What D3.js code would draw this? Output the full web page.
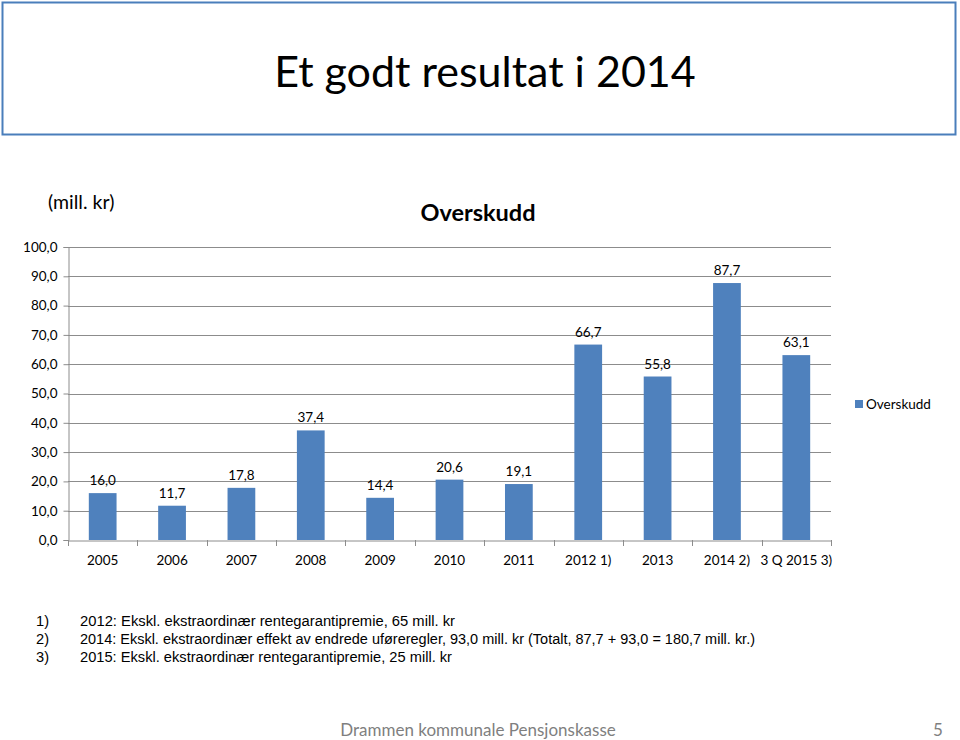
<!DOCTYPE html>
<html><head><meta charset="utf-8">
<script src="https://cdn.jsdelivr.net/npm/d3@7"></script>
<style>body{margin:0;background:#fff}svg{display:block}</style>
</head><body>
<svg id="c" width="960" height="740"></svg>
<script>
const categories = ["2005","2006","2007","2008","2009","2010","2011","2012 1)","2013","2014 2)","3 Q 2015 3)"];
const values = [16.0,11.7,17.8,37.4,14.4,20.6,19.1,66.7,55.8,87.7,63.1];
const yTicks = [0,10,20,30,40,50,60,70,80,90,100];
const seriesName = "Overskudd";
const footnotes = [
  ["1)","2012: Ekskl. ekstraordinær rentegarantipremie, 65 mill. kr"],
  ["2)","2014: Ekskl. ekstraordinær effekt av endrede uføreregler, 93,0 mill. kr (Totalt, 87,7 + 93,0 = 180,7 mill. kr.)"],
  ["3)","2015: Ekskl. ekstraordinær rentegarantipremie, 25 mill. kr"]
];
const fmt = v => d3.format(".1f")(v).replace(".", ",");

const svg = d3.select("#c");
const font = "Lato, 'Open Sans', sans-serif";

// title box
svg.append("rect").attr("x",2.5).attr("y",2.5).attr("width",953).attr("height",132)
  .attr("fill","#fff").attr("stroke","#4a7ebb").attr("stroke-width",2);
svg.append("text").attr("x",485).attr("y",87).attr("text-anchor","middle")
  .attr("font-family",font).attr("font-size",43).attr("fill","#000").text("Et godt resultat i 2014");

const L = 68, R = 831, T = 247, B = 540;
const x = d3.scaleBand().domain(categories).range([L,R]).paddingInner(0.6).paddingOuter(0.3);
const xb = d3.scaleBand().domain(categories).range([L,R]);
const y = d3.scaleLinear().domain([0,100]).range([B,T]);

// gridlines
svg.append("g").selectAll("line").data(yTicks.filter(d=>d>0)).join("line")
  .attr("x1",L).attr("x2",R).attr("y1",d=>Math.round(y(d))+0.5).attr("y2",d=>Math.round(y(d))+0.5)
  .attr("stroke","#8c8c8c").attr("stroke-width",1);

// bars
svg.append("g").selectAll("rect").data(values).join("rect")
  .attr("x",(d,i)=>x(categories[i])).attr("width",x.bandwidth())
  .attr("y",d=>y(d)).attr("height",d=>B-y(d)).attr("fill","#4f81bd");

// data labels
svg.append("g").selectAll("text").data(values).join("text")
  .attr("x",(d,i)=>x(categories[i])+x.bandwidth()/2).attr("y",d=>y(d)-8)
  .attr("text-anchor","middle").attr("font-family",font).attr("font-size",13.5).attr("fill","#000")
  .text(d=>fmt(d));

// y axis
const ya = svg.append("g").attr("transform",`translate(${L+0.5},0)`)
  .call(d3.axisLeft(y).tickValues(yTicks).tickSize(5).tickFormat(fmt));
ya.select(".domain").attr("stroke","#8c8c8c");
ya.selectAll(".tick line").attr("stroke","#8c8c8c");
ya.selectAll(".tick text").attr("font-family",font).attr("font-size",13.5).attr("fill","#000").attr("x",-11);

// x axis
const xa = svg.append("g").attr("transform",`translate(0,${B+0.5})`)
  .call(d3.axisBottom(xb).tickSize(0).tickSizeOuter(0));
xa.select(".domain").attr("stroke","#8c8c8c");
xa.selectAll(".tick text").attr("font-family",font).attr("font-size",13.5).attr("fill","#000").attr("dy","1.6em");
svg.append("g").selectAll("line").data(d3.range(categories.length+1)).join("line")
  .attr("x1",i=>Math.round(L+i*xb.step())+0.5).attr("x2",i=>Math.round(L+i*xb.step())+0.5)
  .attr("y1",B).attr("y2",B+6).attr("stroke","#8c8c8c");

// chart title and unit
svg.append("text").attr("x",478).attr("y",221).attr("text-anchor","middle")
  .attr("font-family",font).attr("font-weight","bold").attr("font-size",23.5).text("Overskudd");
svg.append("text").attr("x",48).attr("y",209)
  .attr("font-family",font).attr("font-size",19.5).text("(mill. kr)");

// legend
svg.append("rect").attr("x",855).attr("y",400).attr("width",8).attr("height",8).attr("fill","#4f81bd");
svg.append("text").attr("x",866).attr("y",409).attr("font-family",font).attr("font-size",13.5).text(seriesName);

// footnotes
const ends = [455, 755, 452];
footnotes.forEach((f,i)=>{
  const yy = 626 + i*18;
  svg.append("text").attr("x",36).attr("y",yy).attr("font-family","'Liberation Sans', Arial, sans-serif")
    .attr("font-size",14).attr("textLength",13).attr("lengthAdjust","spacingAndGlyphs").text(f[0]);
  svg.append("text").attr("x",80).attr("y",yy).attr("font-family","'Liberation Sans', Arial, sans-serif")
    .attr("font-size",14).attr("textLength",ends[i]-80).attr("lengthAdjust","spacingAndGlyphs").text(f[1]);
});

// footer
svg.append("text").attr("x",478).attr("y",736).attr("text-anchor","middle")
  .attr("font-family",font).attr("font-size",17).attr("fill","#7f7f7f").text("Drammen kommunale Pensjonskasse");
svg.append("text").attr("x",938).attr("y",736).attr("text-anchor","middle")
  .attr("font-family",font).attr("font-size",17).attr("fill","#7f7f7f").text("5");
</script>
</body></html>
